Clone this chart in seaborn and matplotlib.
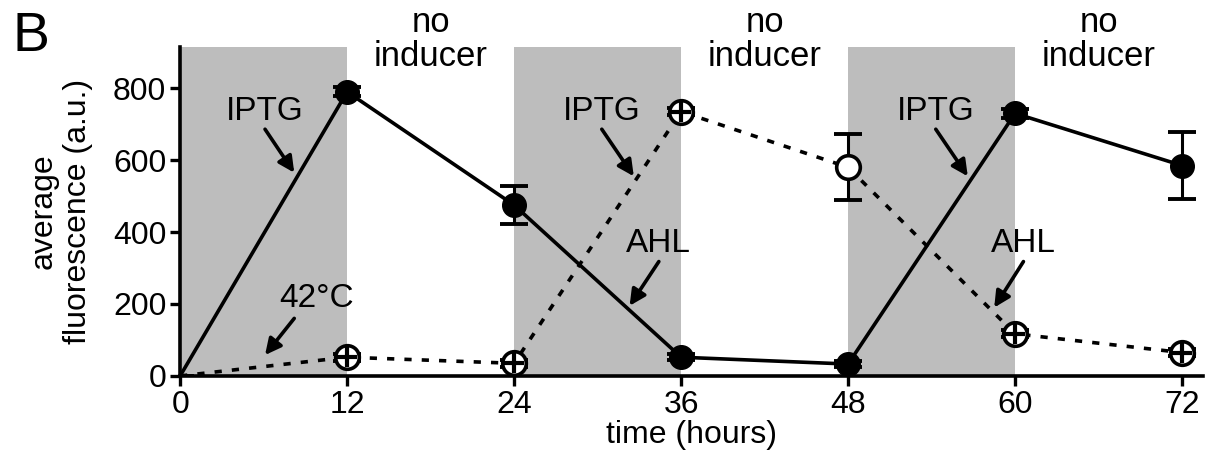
import pandas as pd
import seaborn as sns
import matplotlib
matplotlib.use("Agg")
import matplotlib.pyplot as plt

# datos
tiempo = [0, 12, 24, 36, 48, 60, 72]
serie_solida = [0, 790, 475, 52, 33, 730, 585]
err_solida = [0, 12, 52, 8, 8, 12, 93]
serie_punteada = [0, 52, 35, 735, 580, 117, 65]
err_punteada = [0, 10, 10, 10, 92, 10, 10]
punteada_abierta = [False, False, False, False, True, False, False]

ventanas_inductor = [(0, 12), (24, 36), (48, 60)]
centros_sin_inductor = [18, 42, 66]

datos = pd.DataFrame({
    "time": tiempo * 2,
    "fluor": serie_solida + serie_punteada,
    "serie": ["solida"] * len(tiempo) + ["punteada"] * len(tiempo),
})

sns.set_style("ticks")
plt.rcParams["font.family"] = ["Liberation Sans", "DejaVu Sans"]
plt.rcParams["font.size"] = 23
for k in ["text.color", "axes.labelcolor", "xtick.color", "ytick.color", "axes.edgecolor"]:
    plt.rcParams[k] = "black"

fig = plt.figure(figsize=(12.09, 4.54), dpi=100)
ax = fig.add_axes([0.149, 0.172, 0.846, 0.724])

for a, b in ventanas_inductor:
    ax.axvspan(a, b, color="#bdbdbd", lw=0, zorder=0)

sns.lineplot(data=datos, x="time", y="fluor", style="serie",
             dashes={"solida": "", "punteada": (2.0, 2.8)},
             color="black", linewidth=2.6, legend=False, ax=ax, zorder=2)

# barras de error
ax.errorbar(tiempo, serie_solida, yerr=err_solida, fmt="none", ecolor="black",
            elinewidth=2.2, capsize=10, capthick=2.8, zorder=3)
ax.errorbar(tiempo, serie_punteada, yerr=err_punteada, fmt="none", ecolor="black",
            elinewidth=2.2, capsize=10, capthick=2.8, zorder=3)

# marcadores
ax.plot(tiempo[1:], serie_solida[1:], "o", color="black", ms=17, zorder=4)
for t, v, abierto in zip(tiempo[1:], serie_punteada[1:], punteada_abierta[1:]):
    ax.plot(t, v, "o", mfc="white", mec="black", mew=2.6, ms=17, zorder=5)
    if not abierto:
        ax.plot(t, v, "+", color="black", mew=3, ms=15, zorder=6)

ax.set_xlim(0, 73.5)
ax.set_ylim(0, 914)
ax.set_xticks([0, 12, 24, 36, 48, 60, 72])
ax.set_yticks([0, 200, 400, 600, 800])
ax.tick_params(width=2.4, length=7, labelsize=23, pad=3)
for s in ["left", "bottom"]:
    ax.spines[s].set_linewidth(2.6)
sns.despine(ax=ax)

ax.set_xlabel("time (hours)", fontsize=23, labelpad=0)
ax.set_ylabel("average\nfluorescence (a.u.)", fontsize=23, linespacing=1.2, labelpad=14)

# anotaciones (texto, punta de flecha)
flecha = dict(arrowstyle="-|>", color="black", lw=2.6, mutation_scale=24,
              shrinkA=0, shrinkB=0)
iptg = [(6.1, 736, 8.2, 565), (30.3, 736, 32.6, 555), (54.3, 736, 56.6, 555)]
for tx, ty, hx, hy in iptg:
    ax.text(tx, ty, "IPTG", ha="center", va="center", fontsize=24, zorder=7)
    ax.annotate("", xy=(hx, hy), xytext=(tx, ty - 50), arrowprops=flecha, zorder=7)
ahl = [(34.4, 368, 32.3, 195), (60.6, 368, 58.5, 190)]
for tx, ty, hx, hy in ahl:
    ax.text(tx, ty, "AHL", ha="center", va="center", fontsize=24, zorder=7)
    ax.annotate("", xy=(hx, hy), xytext=(tx, ty - 50), arrowprops=flecha, zorder=7)
ax.text(9.8, 215, "42°C", ha="center", va="center", fontsize=24, zorder=7)
ax.annotate("", xy=(6.1, 58), xytext=(8.2, 160), arrowprops=flecha, zorder=7)

for cx in centros_sin_inductor:
    ax.text(cx, 935, "no\ninducer", ha="center", va="center", fontsize=25,
            linespacing=1.05, clip_on=False)

fig.text(0.010, 0.975, "B", fontsize=40, ha="left", va="top")

fig.savefig("out.png", dpi=100)
